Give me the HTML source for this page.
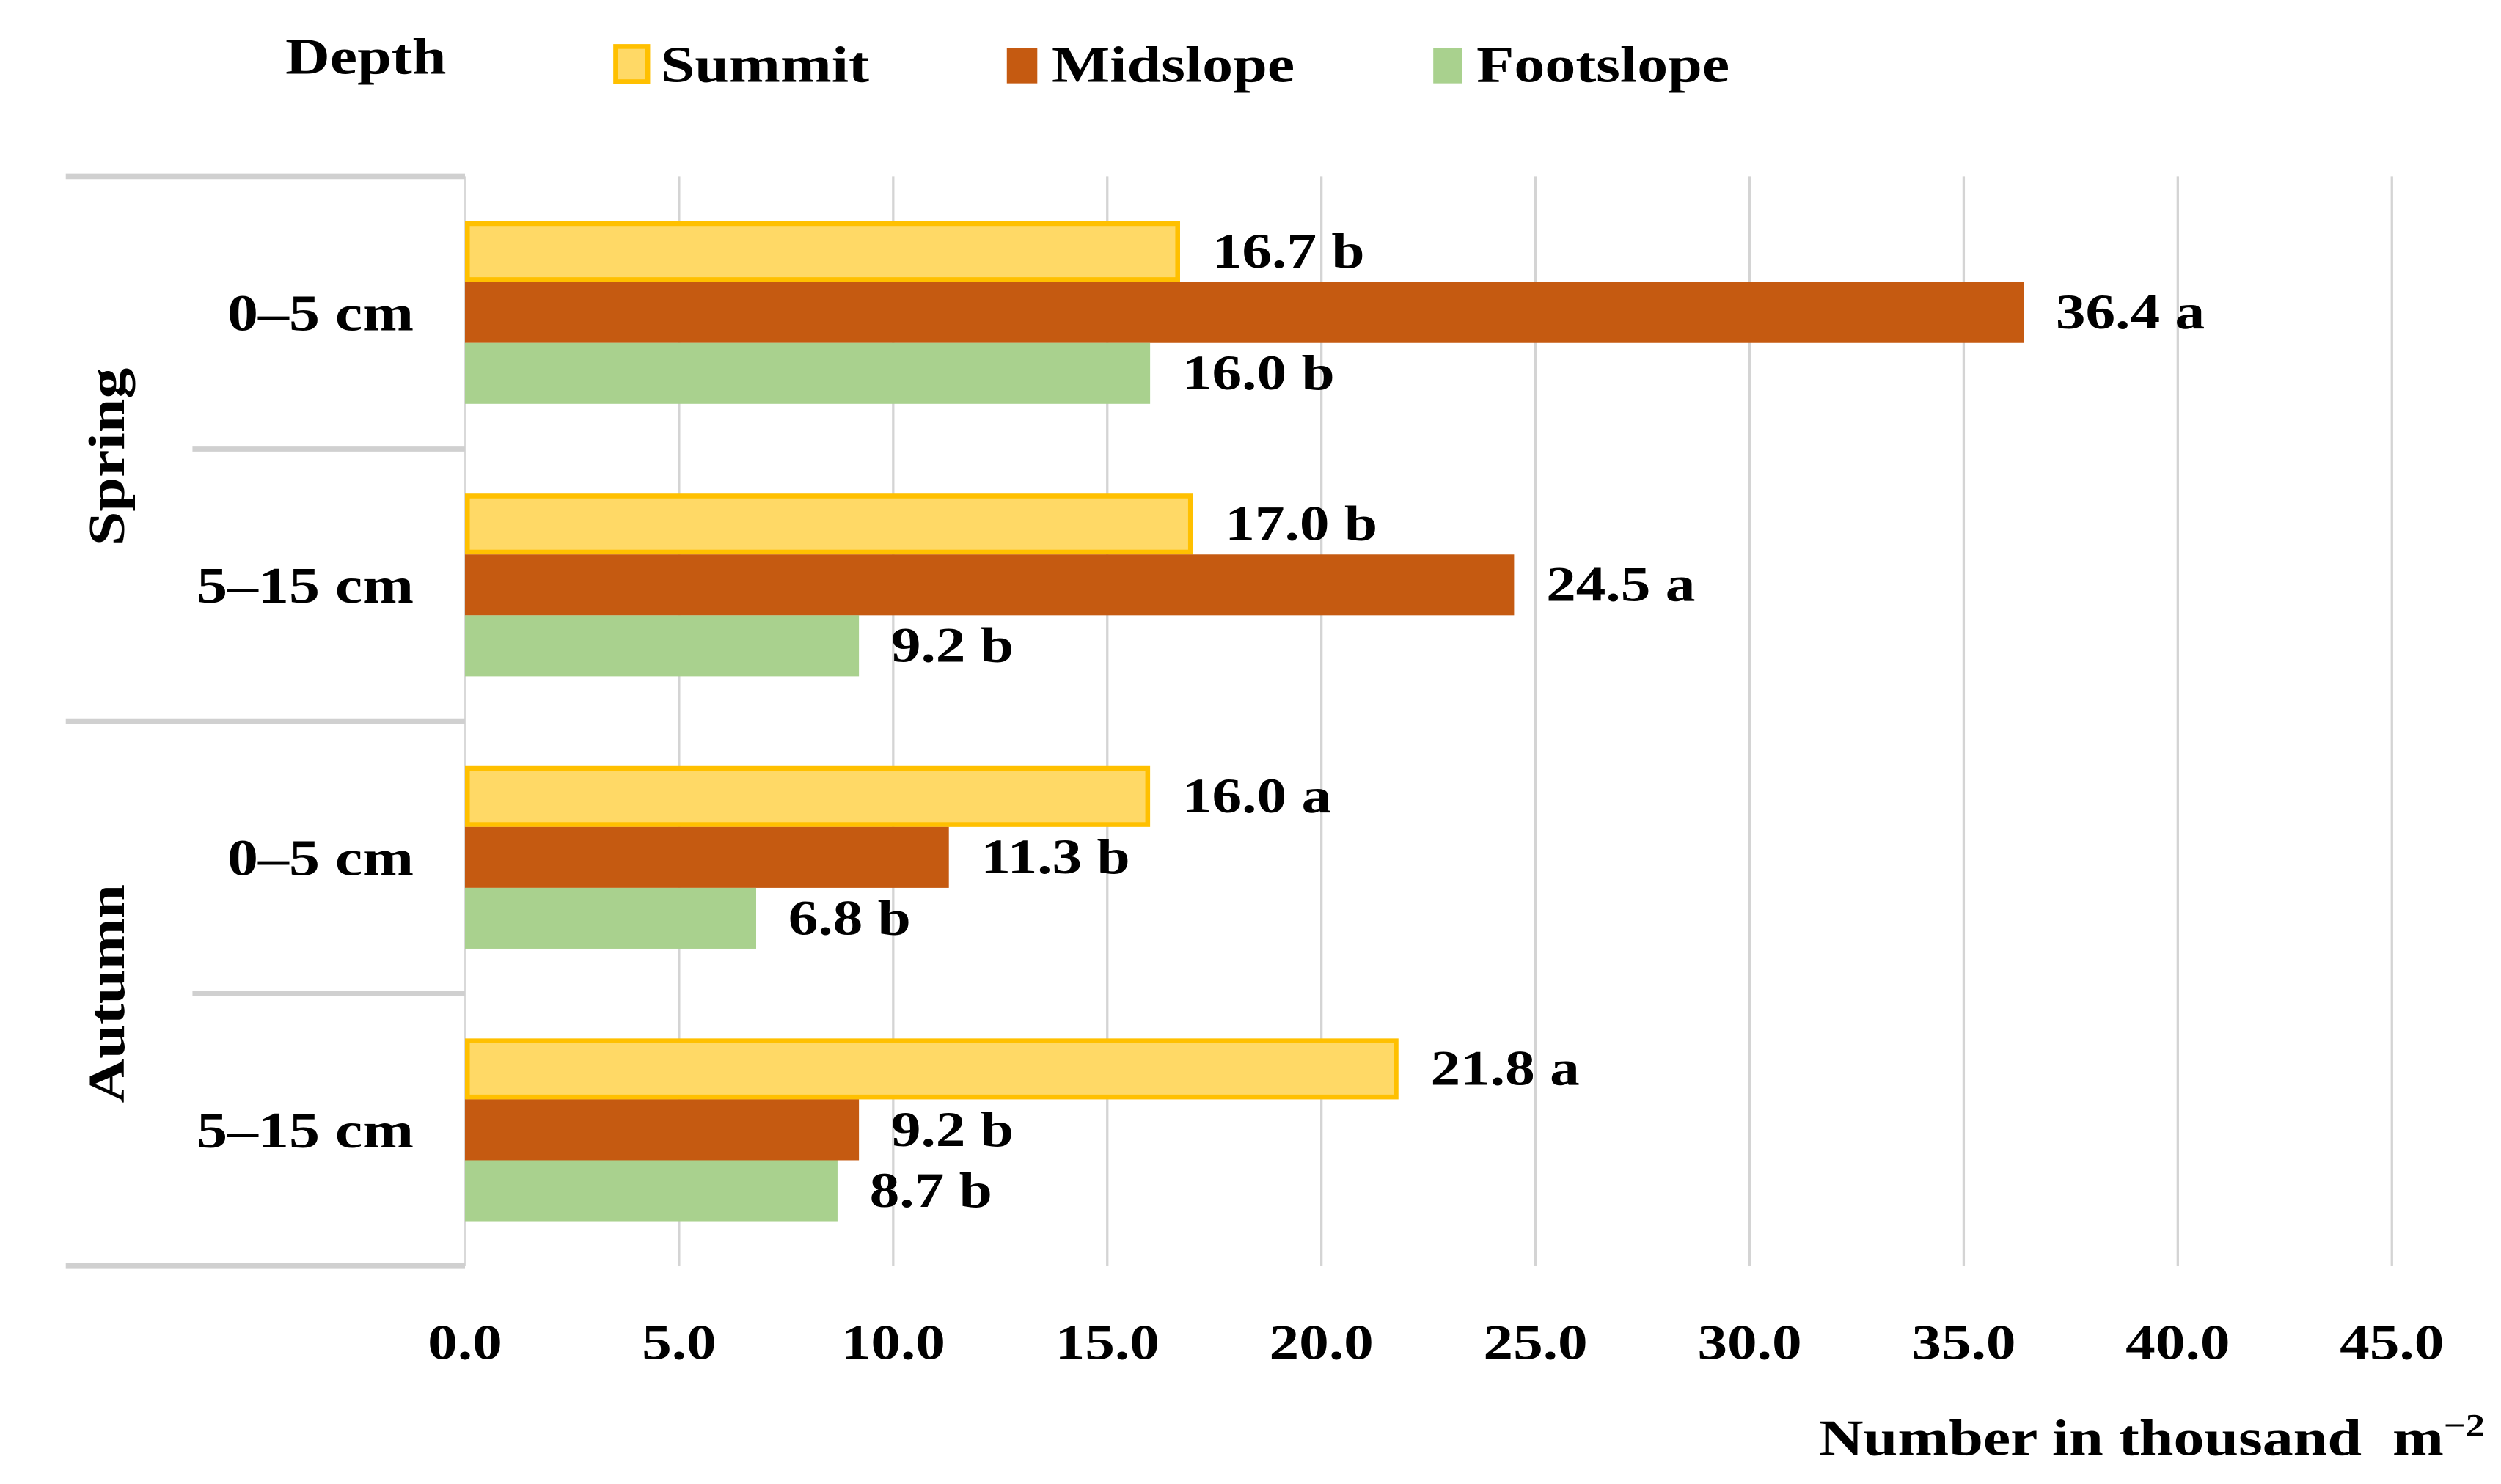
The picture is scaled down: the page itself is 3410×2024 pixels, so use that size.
<!DOCTYPE html>
<html><head><meta charset="utf-8"><style>
html,body{margin:0;padding:0;background:#fff;}
svg{display:block;}
text{font-family:"Liberation Serif",serif;font-weight:bold;fill:#000;}
</style></head><body>
<svg id="chart" width="3410" height="2024" viewBox="0 0 1560 926" xmlns="http://www.w3.org/2000/svg">
<g>
 <text x="178" y="46" font-size="32">Depth</text>
 <rect x="384" y="29" width="20" height="22" fill="#FFD966" stroke="#FFC000" stroke-width="3"/>
 <text x="412" y="51" font-size="32">Summit</text>
 <rect x="628" y="30" width="19" height="22" fill="#C55A11"/>
 <text x="656" y="51" font-size="32">Midslope</text>
 <rect x="894" y="30" width="18" height="22" fill="#A9D18E"/>
 <text x="921" y="51" font-size="32">Footslope</text>
</g>
<g id="grid"></g>
<g id="seps"></g>
<g id="bars"></g>
<g id="labels"></g>
<g id="ticks"></g>
<g id="cats"></g>
<text x="70" y="285" font-size="32" text-anchor="middle" transform="rotate(-90 70 285)" dominant-baseline="middle">Spring</text>
<text x="70" y="620" font-size="32" text-anchor="middle" transform="rotate(-90 70 620)" dominant-baseline="middle">Autumn</text>
<text x="1550" y="908" font-size="32" text-anchor="end">Number in thousand&#160; m<tspan font-size="20" dy="-12">−2</tspan></text>
</svg>
<script>
const categories = ["0–5 cm","5–15 cm","0–5 cm","5–15 cm"];
const summit = [16.7, 17.0, 16.0, 21.8];
const midslope = [36.4, 24.5, 11.3, 9.2];
const footslope = [16.0, 9.2, 6.8, 8.7];
const summitLetters = ["b","b","a","a"];
const midslopeLetters = ["a","a","b","b"];
const footslopeLetters = ["b","b","b","b"];
const tickValues = [0,5,10,15,20,25,30,35,40,45];
const tickLabels = ["0.0","5.0","10.0","15.0","20.0","25.0","30.0","35.0","40.0","45.0"];

const NS = "http://www.w3.org/2000/svg";
const X0 = 290, X1 = 1492, XMAX = 45;
const TOP = 110, BOT = 790;
const xs = v => X0 + (v / XMAX) * (X1 - X0);
const groupH = (BOT - TOP) / categories.length;
const groupY = i => TOP + i * groupH;
function mk(tag, attrs, parent) {
  const el = document.createElementNS(NS, tag);
  for (const k in attrs) el.setAttribute(k, attrs[k]);
  parent.appendChild(el);
  return el;
}
const grid = document.getElementById('grid');
const ticks = document.getElementById('ticks');
tickValues.forEach((v, i) => {
  if (v > 0) {
    const l = mk('line', {x1: xs(v), x2: xs(v), y1: TOP, y2: BOT, stroke: '#d4d4d4', 'stroke-width': 1.5}, grid);
    
    
  }
  const t = mk('text', {x: xs(v), y: 848, 'font-size': 31, 'text-anchor': 'middle'}, ticks);
  t.textContent = tickLabels[i];
  
  
});
const seps = document.getElementById('seps');
const ax = mk('line', {x1: X0, x2: X0, y1: TOP, y2: BOT, stroke: '#d9d9d9', 'stroke-width': 1.5}, seps);


for (let i = 0; i <= categories.length; i++) {
  const xs0 = (i % 2 === 0) ? 41 : 120;
  const s = mk('line', {x1: xs0, x2: X0, y1: groupY(i), y2: groupY(i), stroke: '#d0d0d0', 'stroke-width': 3.5}, seps);
  
  
}
const bars = document.getElementById('bars');
const labels = document.getElementById('labels');
const cats = document.getElementById('cats');
const series = [
  {vals: summit, letters: summitLetters, fill: '#FFD966', stroke: '#FFC000', name: 'summit'},
  {vals: midslope, letters: midslopeLetters, fill: '#C55A11', stroke: 'none', name: 'midslope'},
  {vals: footslope, letters: footslopeLetters, fill: '#A9D18E', stroke: 'none', name: 'footslope'}
];
const barH = 38;
categories.forEach((c, i) => {
  const cy = groupY(i) + groupH / 2;
  const t = mk('text', {x: 258, y: cy + 11, 'font-size': 32, 'text-anchor': 'end'}, cats);
  t.textContent = c;
  
  
  series.forEach((s, j) => {
    const y = cy - 1.5 * barH + j * barH;
    const w = xs(s.vals[i]) - X0;
    const attrs = {x: X0, y: y, width: w, height: barH, fill: s.fill};
    if (s.stroke !== 'none') {
      attrs.x = X0 + 1.5; attrs.y = y + 1.5; attrs.width = w - 3; attrs.height = barH - 3;
      attrs.stroke = s.stroke; attrs['stroke-width'] = 3;
    }
    const r = mk('rect', attrs, bars);
    
    
    const lt = mk('text', {x: xs(s.vals[i]) + 20, y: y + barH / 2 + 10, 'font-size': 31}, labels);
    lt.textContent = s.vals[i].toFixed(1) + ' ' + s.letters[i];
    
    
  });
});
// horizontally stretch all text to match the reference's wide glyphs
document.querySelectorAll('#chart text').forEach(t => {
  const len = t.getComputedTextLength();
  if (len > 0) {
    t.setAttribute('textLength', (len * 1.2).toFixed(1));
    t.setAttribute('lengthAdjust', 'spacingAndGlyphs');
  }
});
</script>
</body></html>
